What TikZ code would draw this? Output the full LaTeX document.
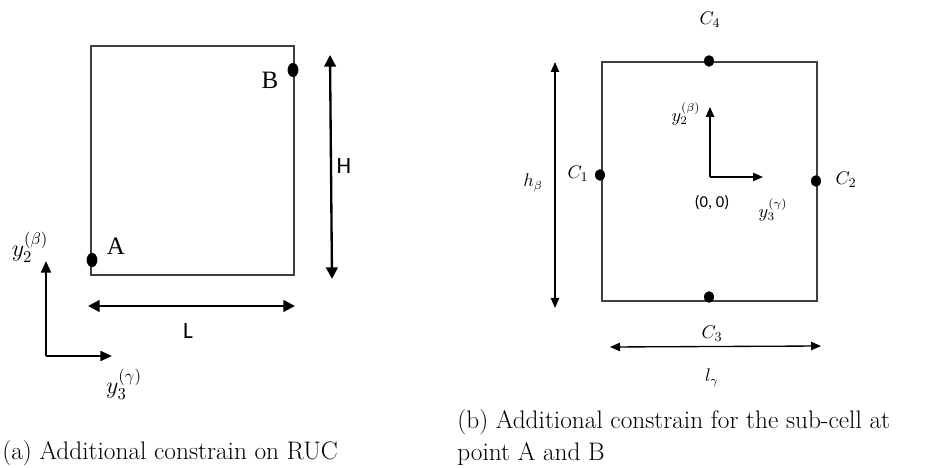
\documentclass[tikz,border=0pt]{standalone}
\usepackage{fontspec}
\newfontfamily\carl{Carlito}
\newfontfamily\tms{Liberation Serif}
\usetikzlibrary{arrows.meta,shapes.geometric}
\begin{document}
\begin{tikzpicture}[x=0.6pt,y=-0.6pt,
  box/.style={draw=black!75,line width=0.9pt},
  dot/.style={ellipse,fill=black,inner sep=0pt,minimum width=6.5pt,minimum height=8.5pt},
  sdot/.style={ellipse,fill=black,inner sep=0pt,minimum width=6pt,minimum height=7pt},
  bigarr/.style={line width=1.4pt,{Triangle[length=7pt,width=7pt]}-{Triangle[length=7pt,width=7pt]}},
  onearr/.style={line width=1.3pt,-{Triangle[length=7pt,width=6pt]}},
  smallarr/.style={line width=0.8pt,{Triangle[length=6pt,width=5pt]}-{Triangle[length=6pt,width=5pt]}},
  smallone/.style={line width=0.8pt,-{Triangle[length=6pt,width=5pt]}},
  lbl/.style={inner sep=0pt},
  captext/.style={inner sep=0pt,font=\fontsize{15.2}{19.4}\selectfont}]
\path[use as bounding box] (0,0) rectangle (929,468);

% ---------- left panel ----------
\draw[box] (91,46) rectangle (294,275);
\node[dot] (B) at (293,70) {};
\node[dot] (A) at (92,260) {};
\node[lbl,font=\tms\fontsize{15}{15}\selectfont] (Blbl) at (270,80) {B};
\node[lbl,font=\tms\fontsize{15}{15}\selectfont] (Albl) at (116,246) {A};

\coordinate (Ht) at (330,55);
\coordinate (Hb) at (332,279);
\draw[bigarr] (Ht) -- (Hb);
\node[lbl,font=\carl\fontsize{14}{14}\selectfont] (H) at (344,166) {H};

\coordinate (Ll) at (88,306);
\coordinate (Lr) at (295,306);
\draw[bigarr] (Ll) -- (Lr);
\node[lbl,font=\carl\fontsize{14}{14}\selectfont] (L) at (188,331) {L};

\coordinate (O1) at (46,356);
\coordinate (O1u) at (46,261);
\coordinate (O1r) at (112,356);
\draw[onearr] (O1) -- (O1u);
\draw[onearr] (O1) -- (O1r);
\node[lbl,font=\fontsize{14}{14}\selectfont] (y2a) at (30,247) {$y_2^{(\beta)}$};
\node[lbl,font=\fontsize{14}{14}\selectfont] (y3a) at (124,384) {$y_3^{(\gamma)}$};

\node[captext,anchor=base west] (capa) at (2,459) {(a) Additional constrain on RUC};

% ---------- right panel ----------
\draw[box] (602,62) rectangle (817,301);
\node[sdot] (C4) at (709,61) {};
\node[sdot] (C1) at (600,175) {};
\node[sdot] (C2) at (816,181) {};
\node[sdot] (C3) at (709,297) {};
\node[lbl,font=\fontsize{11}{11}\selectfont] (C4l) at (710,20) {$C_4$};
\node[lbl,font=\fontsize{11}{11}\selectfont] (C1l) at (578,174) {$C_1$};
\node[lbl,font=\fontsize{11}{11}\selectfont] (C2l) at (846,180) {$C_2$};
\node[lbl,font=\fontsize{11}{11}\selectfont] (C3l) at (712,334) {$C_3$};

\coordinate (O2) at (710,177);
\coordinate (O2u) at (710,107);
\coordinate (O2r) at (763,177);
\draw[smallone] (O2) -- (O2u);
\draw[smallone] (O2) -- (O2r);
\node[lbl,font=\fontsize{10.5}{10.5}\selectfont] (y2b) at (686,114) {$y_2^{(\beta)}$};
\node[lbl,font=\carl\fontsize{10}{10}\selectfont] (orig) at (712,203) {(0, 0)};
\node[lbl,font=\fontsize{10.5}{10.5}\selectfont] (y3b) at (773,210) {$y_3^{(\gamma)}$};

\coordinate (ht) at (555,62);
\coordinate (hb) at (555,308);
\draw[smallarr] (ht) -- (hb);
\node[lbl,font=\fontsize{10.5}{10.5}\selectfont] (hl) at (533,183) {$h_\beta$};

\coordinate (ll) at (610,347);
\coordinate (lr) at (821,346);
\draw[smallarr] (ll) -- (lr);
\node[lbl,font=\fontsize{10.5}{10.5}\selectfont] (lg) at (712,378) {$l_\gamma$};

\node[captext,anchor=north west,align=left] (capb) at (457,409) {(b) Additional constrain for the sub-cell at\\point A and B};
\end{tikzpicture}
\end{document}
